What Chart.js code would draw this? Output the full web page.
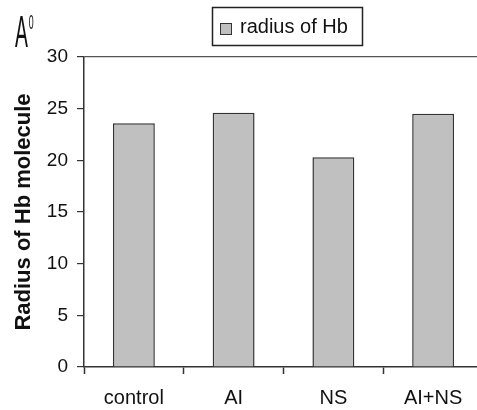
<!DOCTYPE html>
<html lang="en">

<head>
    <meta charset="UTF-8">
    <title>Radius of Hb molecule</title>
    <style>
        html, body { margin: 0; padding: 0; background: #fff; overflow: hidden; }
        .wrap { width: 477px; height: 410px; overflow: hidden; }
    </style>
    <script src="https://cdn.jsdelivr.net/npm/chart.js"></script>
    <script type="text/javascript">
        // 차트 데이터
        var categories = ["control", "AI", "NS", "AI+NS"];
        var radiusValues = [23.6, 24.6, 20.3, 24.5];
        var seriesLabel = "radius of Hb";
        var yMin = 0, yMax = 30, yStep = 5;

        var FONT = "'Liberation Sans', Arial, sans-serif";

        // 범례 상자와 A° 단위 표시
        var extras = {
            id: "extras",
            afterDraw: function (chart) {
                var ctx = chart.ctx;
                ctx.save();
                // legend
                ctx.strokeStyle = "#222";
                ctx.lineWidth = 1.5;
                ctx.strokeRect(212.5, 7.5, 150, 38);
                ctx.fillStyle = "#c0c0c0";
                ctx.fillRect(220, 23, 12, 12);
                ctx.strokeStyle = "#333";
                ctx.lineWidth = 1;
                ctx.strokeRect(220.5, 23.5, 11, 11);
                ctx.fillStyle = "#111";
                ctx.font = "20px " + FONT;
                ctx.textBaseline = "middle";
                ctx.textAlign = "left";
                ctx.fillText(seriesLabel, 240, 27);
                // A° unit
                ctx.save();
                ctx.translate(15, 47);
                ctx.scale(0.88, 2.03);
                ctx.font = "22px " + FONT;
                ctx.textBaseline = "alphabetic";
                ctx.fillText("A", 0, 0);
                ctx.font = "10px " + FONT;
                ctx.fillText("0", 15.5, -9);
                ctx.restore();
                ctx.restore();
            }
        };

        window.onload = function () {
            var ctx = document.querySelector(".custom-chart");
            new Chart(ctx, {
                type: "bar",
                data: {
                    labels: categories,
                    datasets: [{
                        label: seriesLabel,
                        data: radiusValues,
                        backgroundColor: "#c0c0c0",
                        borderColor: "#333",
                        borderWidth: 1.5,
                        barPercentage: 0.42,
                        categoryPercentage: 1
                    }]
                },
                options: {
                    responsive: false,
                    animation: false,
                    layout: { padding: { top: 57, right: 0, bottom: 0, left: 0 } },
                    plugins: {
                        legend: { display: false },
                        tooltip: { enabled: false }
                    },
                    scales: {
                        x: {
                            afterFit: function (scale) { scale.height = 43; },
                            grid: {
                                offset: true,
                                color: "transparent",
                                tickColor: "#333",
                                tickLength: 7,
                                tickWidth: 1.5
                            },
                            border: { color: "#333", width: 1.5 },
                            ticks: {
                                color: "#111",
                                padding: 12,
                                font: { family: FONT, size: 20 }
                            }
                        },
                        y: {
                            min: yMin,
                            max: yMax,
                            afterFit: function (scale) { scale.width = 84; },
                            grid: {
                                color: function (c) { return c.tick && c.tick.value === yMax ? "#555" : "transparent"; },
                                tickColor: "#333",
                                tickLength: 7,
                                lineWidth: 1.2
                            },
                            border: { color: "#333", width: 1.5 },
                            ticks: {
                                stepSize: yStep,
                                color: "#111",
                                padding: 9,
                                font: { family: FONT, size: 19 }
                            },
                            title: {
                                display: true,
                                text: "Radius of Hb molecule",
                                color: "#111",
                                padding: { top: 11, bottom: 0 },
                                font: { family: FONT, size: 22, weight: "bold" }
                            }
                        }
                    }
                },
                plugins: [extras]
            });
        };
    </script>
</head>

<body>
    <div class="wrap">
        <canvas class="custom-chart" width="483" height="410"></canvas>
    </div>
</body>

</html>
